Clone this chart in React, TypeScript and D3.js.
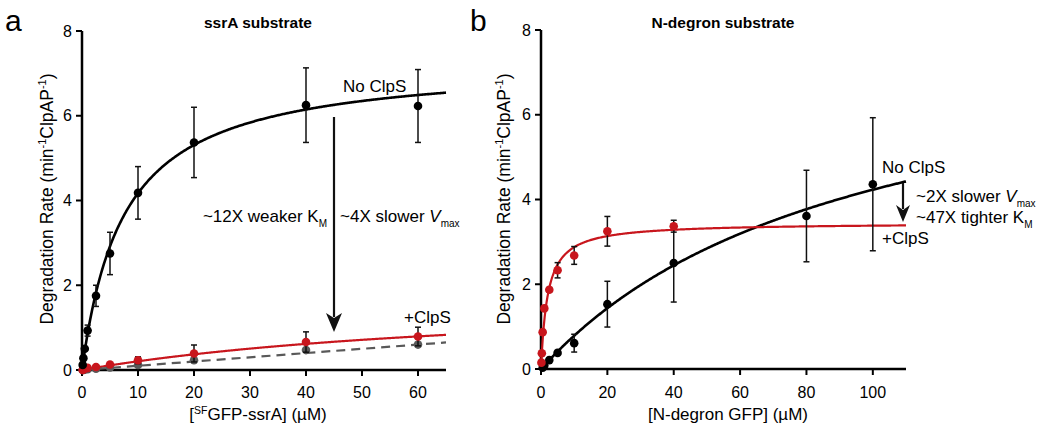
import * as d3 from "d3";
import React from "react";

// ---- panel a : ssrA substrate ----
const ssrAConc = [0.125, 0.25, 0.5, 1, 2.5, 5, 10, 20, 40, 60];
const ssrANoClpS = [0.12, 0.28, 0.5, 0.93, 1.75, 2.75, 4.18, 5.37, 6.25, 6.23];
const ssrANoClpSErr = [0, 0, 0, 0.13, 0.25, 0.5, 0.62, 0.83, 0.88, 0.86];
const ssrAClpS = [0.0, 0.02, 0.03, 0.05, 0.07, 0.13, 0.23, 0.39, 0.66, 0.79];
const ssrAClpSErr = [0, 0, 0, 0, 0.03, 0.04, 0.08, 0.2, 0.24, 0.22];
const ssrAGray = [0.0, 0.0, 0.01, 0.02, 0.03, 0.06, 0.12, 0.23, 0.47, 0.6];
// fitted Michaelis-Menten parameters [Vmax, Km]
const ssrAFitNoClpS = [7.3, 7.5];
const ssrAFitClpS = [1.85, 80];
const ssrAGrayLine = [0, 0.65]; // values at x = 0 and x = 65

// ---- panel b : N-degron substrate ----
const ndConcBlack = [0.5, 1, 2.5, 5, 10, 20, 40, 80, 100];
const ndNoClpS = [0.03, 0.08, 0.21, 0.38, 0.61, 1.53, 2.5, 3.61, 4.36];
const ndNoClpSErr = [0, 0, 0, 0, 0.21, 0.54, 0.92, 1.08, 1.57];
const ndConcRed = [0.125, 0.25, 0.5, 1, 2.5, 5, 10, 20, 40];
const ndClpS = [0.15, 0.37, 0.87, 1.43, 1.87, 2.33, 2.68, 3.25, 3.37];
const ndClpSErr = [0, 0, 0, 0, 0.05, 0.18, 0.21, 0.35, 0.14];
const ndFitNoClpS = [8.25, 95];
const ndFitClpS = [3.45, 2];

const xTicksA = [0, 10, 20, 30, 40, 50, 60];
const xTicksB = [0, 20, 40, 60, 80, 100];
const yTicks = [0, 2, 4, 6, 8];

const RED = "#c8161d";
const GRAY = "#595959";
const FONT = "'Liberation Sans', Arial, Helvetica, sans-serif";

const mm = (p: number[]) => (x: number) => (p[0] * x) / (p[1] + x);

const Arrow = ({ x, y1, y2, w, h }) => (
  <g>
    <line x1={x} x2={x} y1={y1} y2={y2 - h + 4} stroke="#111" strokeWidth={2.2} />
    <path
      d={`M${x},${y2} L${x - w / 2},${y2 - h} L${x},${y2 - h + 5} L${x + w / 2},${y2 - h} Z`}
      fill="#111"
    />
  </g>
);

const Axes = ({ x, y, xTicks, label }) => {
  const [x0, x1] = x.range();
  const [y0, y1] = y.range();
  return (
    <g fontFamily={FONT}>
      <line x1={x0} x2={x1} y1={y0} y2={y0} stroke="#000" strokeWidth={2.5} />
      <line x1={x0} x2={x0} y1={y0 + 1} y2={y1} stroke="#000" strokeWidth={2.5} />
      {xTicks.map((t) => (
        <g key={t}>
          <line x1={x(t)} x2={x(t)} y1={y0} y2={y0 + 6} stroke="#000" strokeWidth={2} />
          <text x={x(t)} y={398} textAnchor="middle" fontSize={16}>
            {t}
          </text>
        </g>
      ))}
      {yTicks.map((t) => (
        <g key={t}>
          <line x1={x0 - 6} x2={x0} y1={y(t)} y2={y(t)} stroke="#000" strokeWidth={2} />
          <text x={x0 - 10} y={y(t) + 5.5} textAnchor="end" fontSize={16}>
            {t}
          </text>
        </g>
      ))}
      {label}
    </g>
  );
};

const YLabel = ({ cx }) => (
  <text
    transform={`translate(${cx},199) rotate(-90)`}
    textAnchor="middle"
    fontSize={17.5}
    fontFamily={FONT}
  >
    Degradation Rate (min
    <tspan fontSize={11} dy={-7}>-1</tspan>
    <tspan dy={7}>ClpAP</tspan>
    <tspan fontSize={11} dy={-7}>-1</tspan>
    <tspan dy={7}>)</tspan>
  </text>
);

const Points = ({ x, y, xs, ys, errs, color }) => (
  <g>
    {xs.map((c, i) =>
      errs && errs[i] > 0 ? (
        <g key={"e" + i} stroke="#111" strokeWidth={1.5}>
          <line x1={x(c)} x2={x(c)} y1={y(ys[i] - errs[i])} y2={y(ys[i] + errs[i])} />
          <line x1={x(c) - 3} x2={x(c) + 3} y1={y(ys[i] + errs[i])} y2={y(ys[i] + errs[i])} />
          <line x1={x(c) - 3} x2={x(c) + 3} y1={y(ys[i] - errs[i])} y2={y(ys[i] - errs[i])} />
        </g>
      ) : null
    )}
    {xs.map((c, i) => (
      <circle key={i} cx={x(c)} cy={y(ys[i])} r={4.3} fill={color} />
    ))}
  </g>
);

const curvePath = (x, y, f, xMax) => {
  const xs = d3.range(0, 401).map((i) => (xMax * i) / 400);
  return d3
    .line<number>()
    .x((d) => x(d))
    .y((d) => y(f(d)))(xs);
};

export default function App() {
  const xa = d3.scaleLinear().domain([0, 65]).range([82, 446]);
  const ya = d3.scaleLinear().domain([0, 8]).range([370, 31]);
  const xb = d3.scaleLinear().domain([0, 110]).range([541, 906]);
  const yb = d3.scaleLinear().domain([0, 8]).range([369, 30]);

  return (
    <svg
      width={1050}
      height={434}
      style={{ position: "absolute", left: 0, top: 0, background: "#fff" }}
      fontFamily={FONT}
    >
      {/* panel letters */}
      <text x={5} y={31} fontSize={30}>a</text>
      <text x={470} y={31} fontSize={30}>b</text>

      {/* ---------- panel a ---------- */}
      <text x={258} y={28} textAnchor="middle" fontSize={15.5} fontWeight="bold">
        ssrA substrate
      </text>
      <YLabel cx={53} />
      <Axes
        x={xa}
        y={ya}
        xTicks={xTicksA}
        label={
          <text x={258} y={420} textAnchor="middle" fontSize={17}>
            [<tspan fontSize={10.5} dy={-6}>SF</tspan>
            <tspan dy={6}>GFP-ssrA] (µM)</tspan>
          </text>
        }
      />
      <path d={curvePath(xa, ya, mm(ssrAFitNoClpS), 65)} fill="none" stroke="#000" strokeWidth={2.6} />
      <path d={curvePath(xa, ya, mm(ssrAFitClpS), 65)} fill="none" stroke={RED} strokeWidth={2.2} />
      <line
        x1={xa(0)}
        x2={xa(65)}
        y1={ya(ssrAGrayLine[0])}
        y2={ya(ssrAGrayLine[1])}
        stroke={GRAY}
        strokeWidth={2.2}
        strokeDasharray="9,6"
      />
      <Points x={xa} y={ya} xs={ssrAConc} ys={ssrAGray} errs={null} color={GRAY} />
      <Points x={xa} y={ya} xs={ssrAConc} ys={ssrAClpS} errs={ssrAClpSErr} color={RED} />
      <Points x={xa} y={ya} xs={ssrAConc} ys={ssrANoClpS} errs={ssrANoClpSErr} color="#000" />

      <Arrow x={xa(45)} y1={117} y2={332} w={16} h={19} />
      <text x={327} y={222} textAnchor="end" fontSize={17}>
        ~12X weaker K<tspan fontSize={10} dy={5}>M</tspan>
      </text>
      <text x={340} y={222} fontSize={17}>
        ~4X slower <tspan fontStyle="italic">V</tspan>
        <tspan fontSize={10} dy={5}>max</tspan>
      </text>
      <text x={343} y={92} fontSize={17}>No ClpS</text>
      <text x={404} y={323} fontSize={17}>+ClpS</text>

      {/* ---------- panel b ---------- */}
      <text x={723} y={28} textAnchor="middle" fontSize={15.5} fontWeight="bold">
        N-degron substrate
      </text>
      <YLabel cx={510} />
      <Axes
        x={xb}
        y={yb}
        xTicks={xTicksB}
        label={
          <text x={728} y={420} textAnchor="middle" fontSize={17}>
            [N-degron GFP] (µM)
          </text>
        }
      />
      <path d={curvePath(xb, yb, mm(ndFitNoClpS), 110)} fill="none" stroke="#000" strokeWidth={2.6} />
      <path d={curvePath(xb, yb, mm(ndFitClpS), 110)} fill="none" stroke={RED} strokeWidth={2.2} />
      <Points x={xb} y={yb} xs={ndConcBlack} ys={ndNoClpS} errs={ndNoClpSErr} color="#000" />
      <Points x={xb} y={yb} xs={ndConcRed} ys={ndClpS} errs={ndClpSErr} color={RED} />

      <Arrow x={903} y1={183} y2={222} w={14} h={17} />
      <text x={882} y={173} fontSize={17}>No ClpS</text>
      <text x={916} y={202} fontSize={17}>
        ~2X slower <tspan fontStyle="italic">V</tspan>
        <tspan fontSize={10} dy={5}>max</tspan>
      </text>
      <text x={916} y={223} fontSize={17}>
        ~47X tighter K<tspan fontSize={10} dy={5}>M</tspan>
      </text>
      <text x={882} y={244} fontSize={17}>+ClpS</text>
    </svg>
  );
}
